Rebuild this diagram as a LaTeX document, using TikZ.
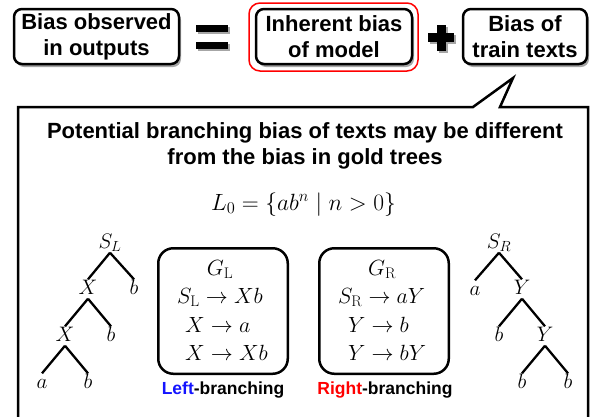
\RequirePackage{fix-cm}
\documentclass[tikz,border=0pt]{standalone}
\usepackage{fontspec}
\newfontfamily\hf{Liberation Sans}
\usetikzlibrary{shadows}
\definecolor{lblue}{RGB}{20,20,255}
\definecolor{rred}{RGB}{255,0,0}
\begin{document}
\begin{tikzpicture}[x=1pt,y=-1pt,
  topbox/.style={draw, line width=2.5pt, rounded corners=8pt, fill=white, align=center,
    inner sep=0pt, minimum height=55pt, font={\hf\bfseries\fontsize{22}{26}\selectfont},
    drop shadow={shadow xshift=2pt, shadow yshift=-3pt, fill=black!35, opacity=1}},
  gbox/.style={draw, line width=2.5pt, rounded corners=15pt, minimum width=129.5pt, minimum height=125.5pt, inner sep=0pt},
  gtext/.style={inner sep=0pt, font={\fontsize{22}{26}\selectfont}},
  tnode/.style={inner sep=1.5pt, text height=13pt, text depth=3pt, font={\fontsize{21}{24}\selectfont}},
  tedge/.style={line width=2.3pt},
  lab/.style={inner sep=0pt, font={\hf\bfseries\fontsize{17.5}{20}\selectfont}},
  sym/.style={fill=black},
  symsh/.style={fill=black!35}]
\useasboundingbox (0,0) rectangle (591,416);
\clip (0,0) rectangle (591,416);

% top row
\node[topbox, minimum width=165pt] (obs) at (96.5,36.5) {Bias observed\\in outputs};
\draw[rred, line width=1.5pt, rounded corners=11pt] (249,3) rectangle (418,71);
\node[topbox, minimum width=156pt] (inh) at (334,36.5) {Inherent bias\\of model};
\node[topbox, minimum width=124pt] (trn) at (525,36.5) {Bias of\\train texts};

% equals sign
\fill[symsh] (198,27) rectangle (230,34);
\fill[symsh] (198,44) rectangle (230,51);
\fill[sym] (196,25) rectangle (228,32);
\fill[sym] (196,42) rectangle (228,49);
% plus sign
\fill[symsh] (439,27) rectangle (448,53);
\fill[symsh] (430,35) rectangle (456,44);
\fill[sym] (437,25) rectangle (446,51);
\fill[sym] (428,33) rectangle (454,42);

% callout
\coordinate (cl) at (18,425);
\coordinate (cr) at (588,425);
\coordinate (tip) at (513,78);
\draw[line width=2.5pt, line join=miter] (cl) -- (18,107) -- (473,107) -- (tip) -- (500,107) -- (588,107) -- (cr);

\node[align=center, inner sep=0pt, font={\hf\bfseries\fontsize{22}{26}\selectfont}] (title) at (305,146)
  {Potential branching bias of texts may be different\\from the bias in gold trees};
\node[anchor=base, inner sep=0pt, font={\fontsize{23.5}{27}\selectfont}] (lang) at (303.5,210)
  {$L_0=\{ab^n \mid n>0\}$};

% grammar boxes
\node[gbox] (gl) at (223,311) {};
\node[gtext, anchor=base] (glt) at (220,275) {$G_{\mathrm{L}}$};
\node[gtext, anchor=base west] (gl1) at (177,303) {$S_{\mathrm{L}}\to Xb$};
\node[gtext, anchor=base west] (gl2) at (185,332) {$X\to a$};
\node[gtext, anchor=base west] (gl3) at (185,360) {$X\to Xb$};
\node[lab] (ll) at (223,390) {\textcolor{lblue}{Left}-branching};

\node[gbox] (gr) at (384,311) {};
\node[gtext, anchor=base] (grt) at (382,275) {$G_{\mathrm{R}}$};
\node[gtext, anchor=base west] (gr1) at (338,303) {$S_{\mathrm{R}}\to aY$};
\node[gtext, anchor=base west] (gr2) at (348,332) {$Y\to b$};
\node[gtext, anchor=base west] (gr3) at (348,360) {$Y\to bY$};
\node[lab] (rl) at (385,390) {\textcolor{rred}{Right}-branching};

% left tree
\node[tnode] (sl) at (110,243) {$S_L$};
\node[tnode] (x1) at (88,289) {$X$};
\node[tnode] (b1) at (134,289) {$b$};
\node[tnode] (x2) at (65,336) {$X$};
\node[tnode] (b2) at (111,336) {$b$};
\node[tnode] (a1) at (42,383) {$a$};
\node[tnode] (b3) at (88,383) {$b$};
\draw[tedge] (sl.south) -- (x1.north);
\draw[tedge] (sl.south) -- (b1.north);
\draw[tedge] (x1.south) -- (x2.north);
\draw[tedge] (x1.south) -- (b2.north);
\draw[tedge] (x2.south) -- (a1.north);
\draw[tedge] (x2.south) -- (b3.north);

% right tree
\node[tnode] (sr) at (499,243) {$S_R$};
\node[tnode] (a2) at (475,290) {$a$};
\node[tnode] (y1) at (522,289) {$Y$};
\node[tnode] (b4) at (499,336) {$b$};
\node[tnode] (y2) at (545,336) {$Y$};
\node[tnode] (b5) at (522,383) {$b$};
\node[tnode] (b6) at (568,383) {$b$};
\draw[tedge] (sr.south) -- (a2.north);
\draw[tedge] (sr.south) -- (y1.north);
\draw[tedge] (y1.south) -- (b4.north);
\draw[tedge] (y1.south) -- (y2.north);
\draw[tedge] (y2.south) -- (b5.north);
\draw[tedge] (y2.south) -- (b6.north);
\end{tikzpicture}
\end{document}
